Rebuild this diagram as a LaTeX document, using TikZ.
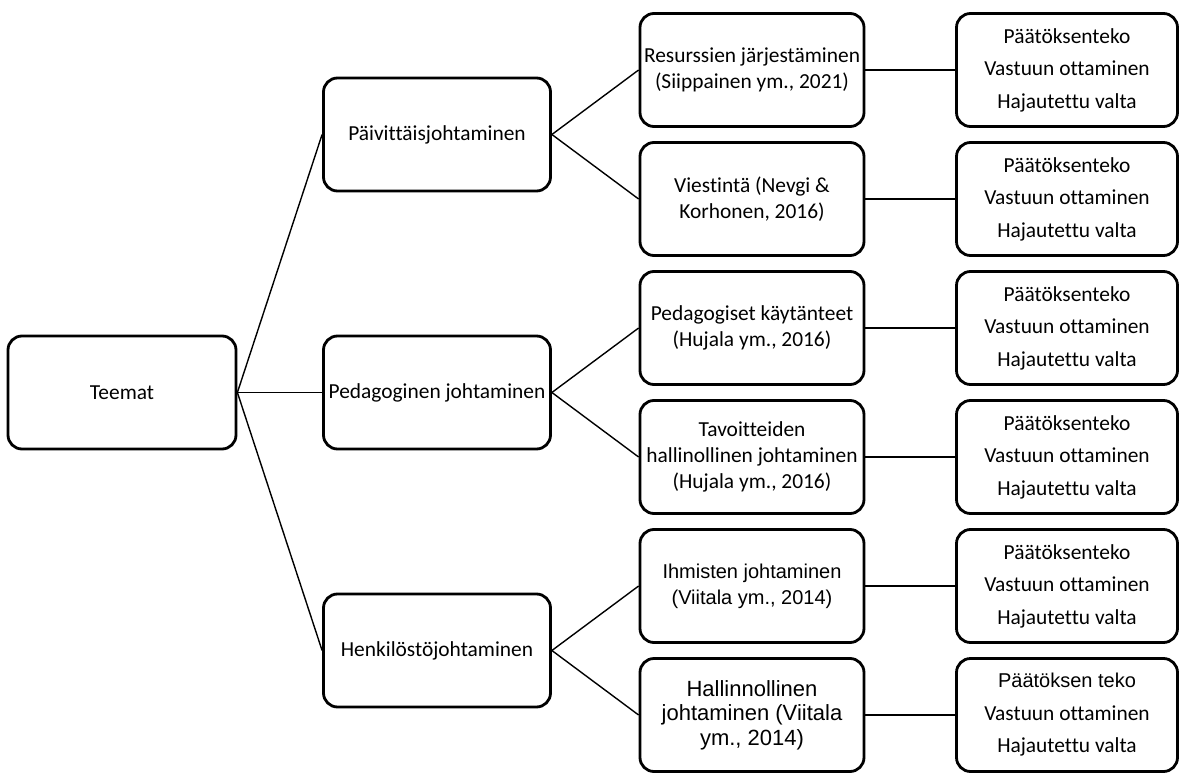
\documentclass[tikz,border=0pt]{standalone}
\usepackage{fontspec}
\setmainfont{Carlito}[Ligatures={NoCommon}]
\newfontfamily\arialfont{Liberation Sans}
\usepackage{tikz}
\usetikzlibrary{calc}
\tikzstyle{theme} = [draw, rounded corners=7pt, line width=1.4pt, minimum height=56.5pt, inner xsep=2pt, align=center, font=\fontsize{10.7}{13}\selectfont]
\tikzstyle{main} = [theme, minimum width=114pt]
\tikzstyle{sub} = [theme, minimum width=113.5pt]
\tikzstyle{source} = [theme, minimum width=112pt]
\tikzstyle{trait} = [theme, minimum width=110.5pt, font=\fontsize{10.7}{16.25}\selectfont]
\tikzstyle{link} = [line width=0.7pt]
\newcommand{\traits}{Päätöksenteko\\Vastuun ottaminen\\Hajautettu valta}

\begin{document}
\begin{tikzpicture}[node distance=157.5pt]
\useasboundingbox (-61pt,196.25pt) rectangle (531pt,-189.75pt);

% themes
\node[main] (teemat) {Teemat};
\node[sub, right of=teemat] (ped) {Pedagoginen johtaminen};
\node[sub, right of=teemat, yshift=129pt] (paiv) {Päivittäisjohtaminen};
\node[sub, right of=teemat, yshift=-129pt] (henk) {Henkilöstöjohtaminen};

% sources
\node[source, right of=paiv, yshift=32.25pt] (res) {Resurssien järjestäminen\\(Siippainen ym., 2021)};
\node[source, right of=paiv, yshift=-32.25pt] (vies) {Viestintä (Nevgi \&\\Korhonen, 2016)};
\node[source, right of=ped, yshift=32.25pt] (pedk) {Pedagogiset käytänteet\\(Hujala ym., 2016)};
\node[source, right of=ped, yshift=-32.25pt] (tav) {Tavoitteiden\\hallinollinen johtaminen\\(Hujala ym., 2016)};
\node[source, right of=henk, yshift=32.25pt, font=\arialfont\fontsize{10}{13}\selectfont] (ihm) {Ihmisten johtaminen\\(Viitala ym., 2014)};
\node[source, right of=henk, yshift=-32.25pt, font=\arialfont\fontsize{11}{12.3}\selectfont] (hall) {Hallinnollinen\\johtaminen (Viitala\\ym., 2014)};

% traits
\node[trait, right of=res] (tres) {\traits} edge[link] (res);
\node[trait, right of=vies] (tvies) {\traits} edge[link] (vies);
\node[trait, right of=pedk] (tpedk) {\traits} edge[link] (pedk);
\node[trait, right of=tav] (ttav) {\traits} edge[link] (tav);
\node[trait, right of=ihm] (tihm) {\traits} edge[link] (ihm);
\node[trait, right of=hall] (thall) {{\arialfont\fontsize{10}{16.25}\selectfont Päätöksen teko}\\Vastuun ottaminen\\Hajautettu valta} edge[link] (hall);

\draw[link] (teemat.east) -- (paiv.west);
\draw[link] (teemat.east) -- (ped.west);
\draw[link] (teemat.east) -- (henk.west);
\draw[link] (paiv.east) -- (res.west);
\draw[link] (paiv.east) -- (vies.west);
\draw[link] (ped.east) -- (pedk.west);
\draw[link] (ped.east) -- (tav.west);
\draw[link] (henk.east) -- (ihm.west);
\draw[link] (henk.east) -- (hall.west);

\end{tikzpicture}
\end{document}
